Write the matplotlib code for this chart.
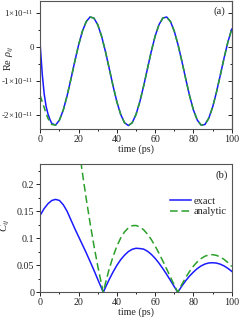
import numpy as np
import matplotlib
matplotlib.use("Agg")
import matplotlib.pyplot as plt
from matplotlib.ticker import MultipleLocator, FixedLocator, FixedFormatter

plt.rcParams['font.family'] = ['Liberation Serif', 'DejaVu Serif']
plt.rcParams['mathtext.fontset'] = 'custom'
plt.rcParams['mathtext.rm'] = 'Liberation Serif'
plt.rcParams['mathtext.it'] = 'Liberation Serif:italic'

# panel (a): Re rho_ij, in units of 1e-11
t_a = [0, 1, 2, 3, 4, 5, 6, 8, 10, 12, 14, 16, 18, 20, 22, 24, 26, 28, 30, 32, 34, 36, 38,
       40, 42, 44, 46, 48, 50, 52, 54, 56, 58, 60, 62, 64, 66, 68, 70, 72, 74, 76, 78,
       80, 82, 84, 86, 88, 90, 92, 94, 96, 98, 100]
rho_exact = [0.0, -0.80, -1.38, -1.75, -1.98, -2.14, -2.26, -2.307, -2.158, -1.861, -1.443,
             -0.952, -0.437, 0.050, 0.456, 0.739, 0.872, 0.840, 0.645, 0.309, -0.138, -0.643,
             -1.155, -1.622, -1.995, -2.238, -2.320, -2.237, -1.994, -1.619, -1.152, -0.642,
             -0.134, 0.312, 0.648, 0.842, 0.872, 0.738, 0.453, 0.046, -0.440, -0.955, -1.448,
             -1.864, -2.160, -2.307, -2.290, -2.107, -1.782, -1.346, -0.848, -0.336, 0.136, 0.515]
rho_analytic = [-1.45, -1.62, -1.786, -1.96, -2.110, -2.21, -2.290, -2.307, -2.158, -1.861,
                -1.443, -0.952, -0.437, 0.050, 0.456, 0.739, 0.872, 0.840, 0.645, 0.309,
                -0.138, -0.643, -1.155, -1.622, -1.995, -2.238, -2.320, -2.237, -1.994,
                -1.619, -1.152, -0.642, -0.134, 0.312, 0.648, 0.842, 0.872, 0.738, 0.453,
                0.046, -0.440, -0.955, -1.448, -1.864, -2.160, -2.307, -2.290, -2.107,
                -1.782, -1.346, -0.848, -0.336, 0.136, 0.515]
rho_ticks = [-2, -1, 0, 1]
rho_labels = ['-2×10$^{-11}$', '-1×10$^{-11}$', '0', '1×10$^{-11}$']

# panel (b): C_ij
t_b = [0, 2, 4, 6, 8, 10, 12, 14, 16, 18, 20, 22, 24, 26, 28, 30, 32, 32.9, 34, 36, 38, 40,
       42, 44, 46, 48, 50, 52, 54, 56, 58, 60, 62, 64, 66, 68, 70, 71.8, 72, 74, 76, 78, 80,
       82, 84, 86, 88, 90, 92, 94, 96, 98, 100]
c_exact = [0.143, 0.155, 0.164, 0.170, 0.172, 0.170, 0.162, 0.150, 0.134, 0.118, 0.103,
           0.088, 0.073, 0.057, 0.041, 0.024, 0.0075, 0.0, 0.0087, 0.0238, 0.0376, 0.0499,
           0.0604, 0.0687, 0.0754, 0.0796, 0.0815, 0.081, 0.0799, 0.0760, 0.0702, 0.0628,
           0.0539, 0.0439, 0.0332, 0.0219, 0.0103, 0.0, 0.001, 0.0118, 0.0216, 0.0302,
           0.0375, 0.0439, 0.0488, 0.0523, 0.0543, 0.0547, 0.0541, 0.0521, 0.0488, 0.0443,
           0.0388]
t_b2 = [18, 20, 22, 24, 26, 28, 30, 32, 32.9, 34, 36, 38, 40, 42, 44, 46, 48, 50, 52, 54,
        56, 58, 60, 62, 64, 66, 68, 70, 71.8, 72, 74, 76, 78, 80, 82, 84, 86, 88, 90, 92,
        94, 96, 98, 100]
c_analytic = [0.3266, 0.272, 0.2208, 0.1728, 0.1282, 0.0867, 0.0487, 0.0143, 0.0, 0.0164,
              0.0434, 0.0663, 0.0854, 0.1006, 0.1118, 0.1193, 0.1233, 0.1237, 0.1211,
              0.1156, 0.1077, 0.0975, 0.0857, 0.0722, 0.058, 0.0432, 0.0281, 0.0131, 0.0,
              0.0014, 0.0150, 0.0276, 0.0388, 0.0485, 0.0564, 0.0625, 0.0668, 0.0692,
              0.0697, 0.0684, 0.0653, 0.0609, 0.055, 0.0479]
c_ticks = [0, 0.05, 0.1, 0.15, 0.2]
c_labels = ['0', '0.05', '0.1', '0.15', '0.2']

blue = '#1a1aff'
green = '#2a9f2a'
ink = '#222222'
fs = 7.2

fig = plt.figure(figsize=(2.4, 3.2), dpi=100)
ax1 = fig.add_axes([0.168, 0.596, 0.7975, 0.401])
ax2 = fig.add_axes([0.168, 0.0866, 0.7975, 0.40])

ax1.plot(t_a, rho_exact, color=blue, lw=1.1)
ax1.plot(t_a, rho_analytic, color=green, lw=1.1, dashes=(4, 2.5))
ax1.set_xlim(0, 100)
ax1.set_ylim(-2.43, 1.344)
ax1.yaxis.set_major_locator(FixedLocator(rho_ticks))
ax1.yaxis.set_major_formatter(FixedFormatter(rho_labels))
ax1.yaxis.set_minor_locator(MultipleLocator(0.5))
ax1.set_ylabel(r'Re $\rho_{ij}$', fontsize=fs + 0.3, color=ink)
ax1.yaxis.set_label_coords(-0.125, 0.55)
ax1.text(0.934, 0.924, '(a)', transform=ax1.transAxes, ha='center', va='center',
         fontsize=fs + 0.5, color=ink)

# inward ticks on the right edge of panel (a)
sec = ax1.secondary_yaxis('right')
sec.yaxis.set_major_locator(FixedLocator(rho_ticks))
sec.yaxis.set_minor_locator(MultipleLocator(0.5))
sec.tick_params(which='both', direction='in', labelright=False, colors=ink, width=0.7)
sec.tick_params(which='major', length=2.9)
sec.tick_params(which='minor', length=1.7)
sec.spines['right'].set_color('#555555')
sec.spines['right'].set_linewidth(0.8)

ax2.plot(t_b, c_exact, color=blue, lw=1.1, label='exact')
ax2.plot(t_b2, c_analytic, color=green, lw=1.1, dashes=(5, 2.5), label='analytic')
ax2.set_xlim(0, 100)
ax2.set_ylim(0, 0.237)
ax2.yaxis.set_major_locator(FixedLocator(c_ticks))
ax2.yaxis.set_major_formatter(FixedFormatter(c_labels))
ax2.yaxis.set_minor_locator(MultipleLocator(0.025))
ax2.set_ylabel(r'$C_{ij}$', fontsize=fs + 0.5, color=ink)
ax2.yaxis.set_label_coords(-0.148, 0.52)
ax2.text(0.947, 0.916, '(b)', transform=ax2.transAxes, ha='center', va='center',
         fontsize=fs + 0.5, color=ink)
ax2.legend(loc='center left', bbox_to_anchor=(0.678, 0.669), frameon=False,
           fontsize=fs + 0.3, handlelength=2.0, handletextpad=0.3, labelspacing=0.1,
           borderpad=0, borderaxespad=0, labelcolor=ink)

for ax in (ax1, ax2):
    ax.xaxis.set_major_locator(MultipleLocator(20))
    ax.xaxis.set_minor_locator(MultipleLocator(10))
    ax.set_xlabel('time (ps)', fontsize=fs, color=ink, labelpad=0)
    ax.tick_params(which='both', direction='out', labelsize=fs, colors=ink, pad=1.5,
                   width=0.7)
    ax.tick_params(which='major', length=2.9)
    ax.tick_params(which='minor', length=1.7)
    for s in ax.spines.values():
        s.set_color('#555555')
        s.set_linewidth(0.8)

ax1.tick_params(axis='y', labelsize=6.4)

fig.savefig('out.png', dpi=100)
